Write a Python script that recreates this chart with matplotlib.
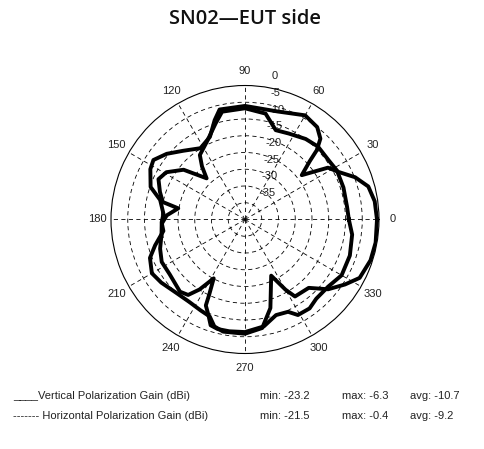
import numpy as np
import matplotlib
matplotlib.use("Agg")
import matplotlib.pyplot as plt
from matplotlib import transforms

# ---------------- data ----------------
title = "SN02\u2014EUT side"

h_angles = [0, 8, 15, 21, 27, 32, 38, 42, 44, 47, 52, 60, 73, 90, 103, 107, 113, 122,
            132, 140, 147, 152, 161, 167, 176, 182, 188, 196, 202, 210, 217, 227, 236,
            244, 250, 254, 259, 270, 279, 286, 295, 300, 303, 313, 320, 327, 333, 342,
            350, 360]
h_gain = [-0.6, -0.9, -1.9, -4.8, -8.7, -10.8, -18.5, -14.0, -10.2, -7.0, -5.0, -4.1,
          -6.3, -6.1, -6.3, -9.0, -13.2, -14.9, -12.4, -9.5, -7.4, -8.0, -10.2, -14.0,
          -15.6, -15.1, -15.4, -12.1, -9.4, -7.9, -8.7, -10.0, -10.3, -9.8, -9.2, -6.8,
          -5.9, -5.9, -7.2, -12.5, -21.5, -15.8, -12.6, -12.1, -7.6, -4.4, -1.6, -0.6,
          -0.4, -0.6]

v_angles = [0, 7, 18, 28, 35, 45, 53, 63, 71, 79, 90, 102, 107, 116, 125, 129, 133,
            137, 141, 149, 155, 162, 168, 170.5, 177, 183, 190, 199, 207, 216, 228, 233,
            237, 242, 244.5, 245.5, 249, 252, 256, 262, 270, 280, 288, 295, 299, 306,
            312, 321, 330, 341, 352, 360]
v_gain = [-9.0, -9.3, -9.1, -8.9, -9.4, -9.2, -9.9, -11.2, -11.8, -7.8, -6.8, -7.1,
          -10.0, -14.1, -16.5, -19.6, -23.2, -20.4, -16.4, -12.6, -11.5, -13.3, -14.9,
          -19.8, -16.6, -15.1, -14.7, -13.2, -12.1, -12.2, -11.0, -11.8, -15.1, -20.1,
          -15.2, -11.8, -9.5, -6.8, -6.3, -6.3, -6.4, -7.6, -10.0, -9.6, -7.4, -7.2,
          -8.2, -8.1, -6.7, -6.9, -7.7, -9.0]

r_min, r_max = -40, 0
ring_values = [0, -5, -10, -15, -20, -25, -30, -35]
angle_ticks = list(range(0, 360, 30))

legend_rows = [
    ("____Vertical Polarization Gain (dBi)", "min: -23.2", "max: -6.3", "avg: -10.7"),
    ("------- Horizontal Polarization Gain (dBi)", "min: -21.5", "max: -0.4", "avg: -9.2"),
]

# ---------------- figure ----------------
W, H = 485, 449
fig = plt.figure(figsize=(W / 100, H / 100), dpi=100)
cx, cy, R = 245, 219.5, 134
ax = fig.add_axes([(cx - R) / W, (H - cy - R) / H, 2 * R / W, 2 * R / H],
                  projection="polar")
ax.set_ylim(r_min, r_max)
ax.set_xticks(np.deg2rad(angle_ticks))
ax.set_xticklabels([])
ax.set_yticks([v for v in ring_values if v != 0])
ax.set_yticklabels([])
ax.tick_params(length=0)
ax.grid(True, color="black", linestyle=(0, (5, 4)), linewidth=0.6)
ax.spines["polar"].set_color("black")
ax.spines["polar"].set_linewidth(0.8)

lab_font = dict(family="Liberation Sans", fontsize=8, color="#222222")

# angle labels
for a in angle_ticks:
    ax.text(np.deg2rad(a), r_max + 0.105 * (r_max - r_min), str(a), ha="center",
            va="center", clip_on=False, **lab_font)

# ring labels
off = transforms.offset_copy(ax.transData, fig=fig, x=13, y=10, units="dots")
for v in ring_values:
    ax.text(np.deg2rad(84), v, str(v), transform=off, ha="left", va="center",
            clip_on=False, zorder=1, **lab_font)

# curves
ax.plot(np.deg2rad(v_angles), v_gain, color="black", lw=2.8, zorder=3,
        solid_joinstyle="round")
ax.plot(np.deg2rad(h_angles), h_gain, color="black", lw=2.8, zorder=3,
        solid_joinstyle="round")

# title
fig.text(cx / W, 1 - 19 / H, title, ha="center", va="center", fontsize=14.5,
         family="Open Sans", fontweight="semibold", color="#111111")

# legend / stats
xs = [13, 260, 342, 410]
ys = [395.7, 415.7]
for row, y in zip(legend_rows, ys):
    for txt, x in zip(row, xs):
        fig.text(x / W, 1 - y / H, txt, ha="left", va="center", **lab_font)

fig.savefig("out.png", dpi=100)
